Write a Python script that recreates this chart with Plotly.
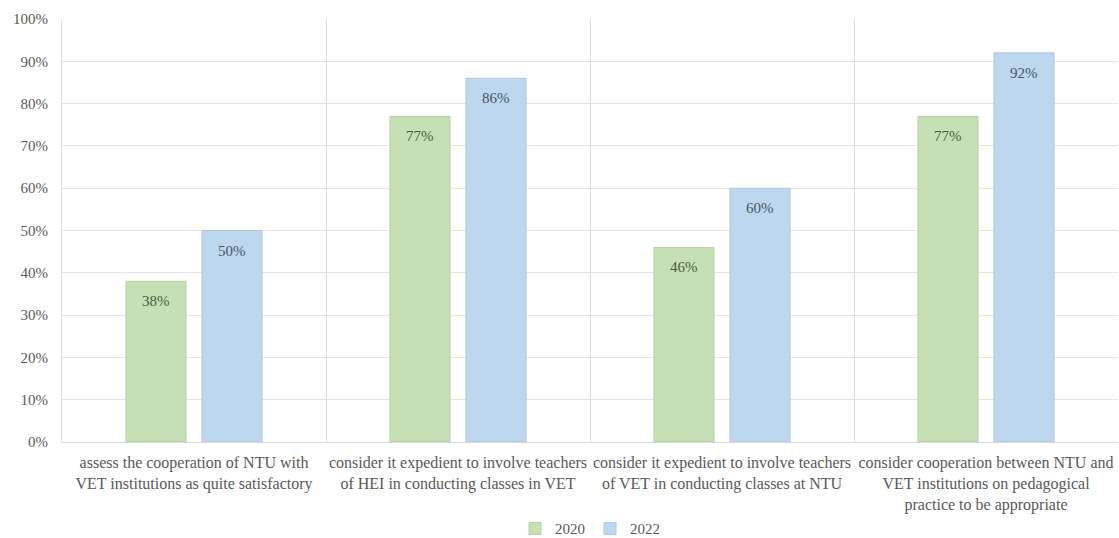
import plotly.graph_objects as go

categories = [
    "assess the cooperation of NTU with<br>VET institutions as quite satisfactory",
    "consider it expedient to involve teachers<br>of HEI in conducting classes in VET",
    "consider it expedient to involve teachers<br>of VET in conducting classes at NTU",
    "consider cooperation between NTU and<br>VET institutions on pedagogical<br>practice to be appropriate",
]
values_2020 = [38, 77, 46, 77]
values_2022 = [50, 86, 60, 92]
tick_vals = [0, 10, 20, 30, 40, 50, 60, 70, 80, 90, 100]
tick_text = [f"{v}%" for v in tick_vals]

FONT = "Liberation Serif"
fig = go.Figure()
fig.add_trace(go.Bar(
    name="2020", x=categories, y=values_2020,
    marker=dict(color="#c5e0b4", line=dict(color="#b4d3a0", width=1)),
))
fig.add_trace(go.Bar(
    name="2022", x=categories, y=values_2022,
    marker=dict(color="#bdd7ee", line=dict(color="#a9c8e4", width=1)),
))

for vals, shift, col in [(values_2020, -38, "#4d5a44"), (values_2022, 38, "#4a5563")]:
    for c, v in zip(categories, vals):
        fig.add_annotation(x=c, y=v, text=f"{v}%", showarrow=False,
                           xref="x", yref="y", xshift=shift, yshift=-10,
                           yanchor="top", xanchor="center",
                           font=dict(family=FONT, size=15, color=col))

fig.update_layout(
    width=1119, height=538,
    margin=dict(l=62, r=1, t=19, b=96, autoexpand=False),
    paper_bgcolor="white", plot_bgcolor="white",
    barmode="group", bargap=0.424, bargroupgap=0.21,
    font=dict(family=FONT, size=15, color="#595959"),
    legend=dict(orientation="h", x=0.5, xanchor="center", y=-0.205, yanchor="middle",
                font=dict(family=FONT, size=15, color="#595959"),
                itemwidth=30, tracegroupgap=0),
)
fig.update_xaxes(
    tickson="boundaries", showgrid=True, gridcolor="#dcdcdc", gridwidth=1,
    showline=True, linecolor="#d9d9d9", ticks="", automargin=False,
    ticklabelstandoff=6, tickangle=0,
    tickfont=dict(family=FONT, size=16, color="#595959"),
)
fig.update_yaxes(
    range=[0, 100], tickvals=tick_vals, ticktext=tick_text, automargin=False,
    showgrid=True, gridcolor="#e3e3e3", gridwidth=1, zeroline=False,
    showline=True, linecolor="#e3e3e3", ticklabelstandoff=10,
    tickfont=dict(family=FONT, size=15, color="#595959"),
)
fig.write_html("out.html")
